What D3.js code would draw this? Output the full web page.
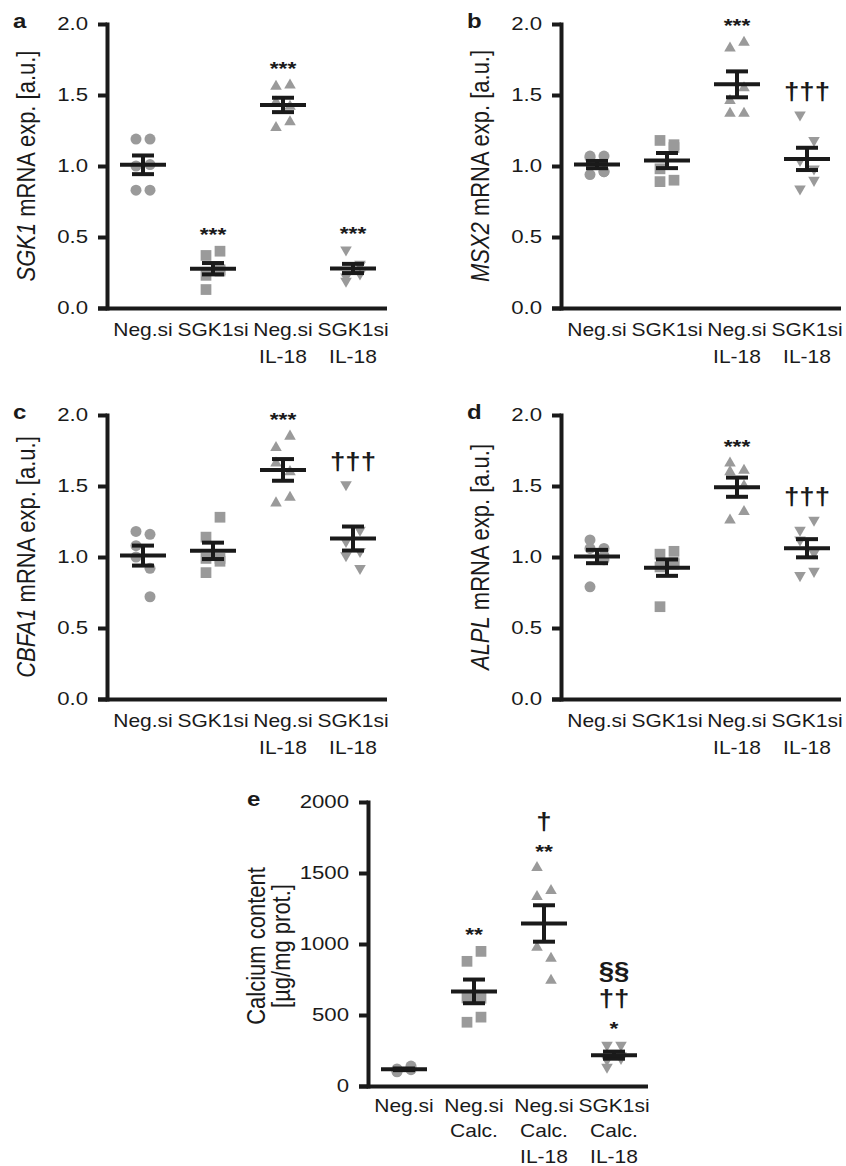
<!DOCTYPE html>
<html>
<head>
<meta charset="utf-8">
<script src="https://cdn.jsdelivr.net/npm/d3@7"></script>
<style>
  body { margin: 0; background: #fff; }
  text { font-family: "Liberation Sans", Arial, sans-serif; }
</style>
</head>
<body>
<svg id="fig" width="846" height="1166"></svg>
<script>
// categories / ticks
var exprCats = [["Neg.si"], ["SGK1si"], ["Neg.si", "IL-18"], ["SGK1si", "IL-18"]];
var calcCats = [["Neg.si"], ["Neg.si", "Calc."], ["Neg.si", "Calc.", "IL-18"], ["SGK1si", "Calc.", "IL-18"]];
var exprTicks = [0, 0.5, 1.0, 1.5, 2.0];
var calcTicks = [0, 500, 1000, 1500, 2000];

// single values per group
var sgk1Values = [
  [1.19, 1.19, 1.00, 1.01, 0.83, 0.83],
  [0.37, 0.40, 0.23, 0.27, 0.13, 0.26],
  [1.56, 1.57, 1.45, 1.42, 1.27, 1.31],
  [0.41, 0.30, 0.22, 0.31, 0.19, 0.24]
];
var msx2Values = [
  [1.07, 1.07, 1.06, 0.96, 0.94, 0.96],
  [1.18, 1.15, 0.98, 1.13, 0.89, 0.90],
  [1.83, 1.87, 1.46, 1.55, 1.37, 1.37],
  [1.36, 1.18, 1.04, 0.98, 0.84, 0.90]
];
var cbfa1Values = [
  [1.18, 1.16, 1.08, 0.92, 1.00, 0.72],
  [1.14, 1.28, 0.99, 0.99, 0.89, 0.97],
  [1.77, 1.85, 1.66, 1.60, 1.38, 1.42],
  [1.51, 1.19, 1.11, 1.04, 1.01, 0.92]
];
var alplValues = [
  [1.06, 1.06, 1.12, 1.01, 0.79, 0.98],
  [1.02, 1.04, 0.93, 0.96, 0.65, 0.95],
  [1.66, 1.61, 1.60, 1.50, 1.26, 1.32],
  [1.19, 1.26, 1.12, 1.03, 0.87, 0.90]
];
var calcValues = [
  [120, 140, 105, 125, 100, 115],
  [878, 948, 620, 618, 449, 485],
  [1334, 1376, 976, 899, 1538, 744],
  [288, 288, 185, 195, 133, 215]
];

// significance marks, bottom line first
var sgk1Marks = [[], ["***"], ["***"], ["***"]];
var msx2Marks = [[], [], ["***"], ["\u2020\u2020\u2020"]];
var cbfa1Marks = [[], [], ["***"], ["\u2020\u2020\u2020"]];
var alplMarks = [[], [], ["***"], ["\u2020\u2020\u2020"]];
var calcMarks = [[], ["**"], ["**", "\u2020"], ["*", "\u2020\u2020", "\u00a7\u00a7"]];

var ink = "#1a1a1a",
    dot = "#9a9a9a",
    sx = 1.2;   // the original figure is stretched horizontally

var shapes = [
  {type: d3.symbolCircle, size: 95, rot: 0},
  {type: d3.symbolSquare, size: 115, rot: 0},
  {type: d3.symbolTriangle, size: 58, rot: 0},
  {type: d3.symbolTriangle, size: 58, rot: 180}
];

var panels = [
  {letter: "a", gene: "SGK1", values: sgk1Values, marks: sgk1Marks, cats: exprCats, ticks: exprTicks, fmt: ".1f", ax: 107, y0: 308, y1: 24, ldx: -94, cy: 28, cdy: 26.8},
  {letter: "b", gene: "MSX2", values: msx2Values, marks: msx2Marks, cats: exprCats, ticks: exprTicks, fmt: ".1f", ax: 561, y0: 308, y1: 24, ldx: -94, cy: 28, cdy: 26.8},
  {letter: "c", gene: "CBFA1", values: cbfa1Values, marks: cbfa1Marks, cats: exprCats, ticks: exprTicks, fmt: ".1f", ax: 107, y0: 699, y1: 415, ldx: -94, cy: 28, cdy: 26.8},
  {letter: "d", gene: "ALPL", values: alplValues, marks: alplMarks, cats: exprCats, ticks: exprTicks, fmt: ".1f", ax: 561, y0: 699, y1: 415, ldx: -94, cy: 28, cdy: 26.8},
  {letter: "e", label: ["Calcium content", "[\u00b5g/mg prot.]"], values: calcValues, marks: calcMarks, cats: calcCats, ticks: calcTicks, fmt: "d", ax: 368, y0: 1086, y1: 802, ldx: -121, cy: 26, cdy: 25.3}
];

var svg = d3.select("#fig");

function drawPanel(p) {
  var g = svg.append("g");

  var y = d3.scaleLinear()
      .domain([0, d3.max(p.ticks)])
      .range([p.y0, p.y1]);

  var x = d3.scalePoint()
      .domain(d3.range(p.cats.length))
      .range([p.ax + 36, p.ax + 36 + 70 * (p.cats.length - 1)]);

  // y axis
  var yAxis = g.append("g")
      .attr("transform", "translate(" + p.ax + ",0)")
      .call(d3.axisLeft(y)
        .tickValues(p.ticks)
        .tickFormat(d3.format(p.fmt))
        .tickSizeInner(9)
        .tickSizeOuter(0)
        .tickPadding(10));

  yAxis.attr("font-family", null).attr("font-size", null);
  yAxis.select(".domain").attr("stroke", ink).attr("stroke-width", 4).attr("stroke-linecap", "square");
  yAxis.selectAll(".tick line").attr("stroke", ink).attr("stroke-width", 4);
  yAxis.selectAll(".tick text")
      .attr("x", -19 / sx)
      .attr("transform", "scale(" + sx + ",1)")
      .attr("fill", ink)
      .style("font-size", "18.5px");

  // x axis line
  g.append("line")
      .attr("x1", p.ax - 9)
      .attr("x2", p.ax + 280)
      .attr("y1", y(0) + 0.5)
      .attr("y2", y(0) + 0.5)
      .attr("stroke", ink)
      .attr("stroke-width", 4);

  // category labels
  g.selectAll(".cat")
    .data(p.cats)
    .join("g")
      .attr("class", "cat")
      .attr("transform", function(d, i) { return "translate(" + x(i) + "," + p.y0 + ") scale(" + sx + ",1)"; })
    .selectAll("text")
    .data(function(d) { return d; })
    .join("text")
      .attr("y", function(d, j) { return p.cy + j * p.cdy; })
      .attr("text-anchor", "middle")
      .attr("fill", ink)
      .style("font-size", "17.5px")
      .text(function(d) { return d; });

  // y label
  var cy = (p.y0 + p.y1) / 2;
  if (p.gene) {
    var t = g.append("g")
        .attr("transform", "translate(" + (p.ax - 72) + "," + cy + ") scale(" + sx + ",1) rotate(-90)")
      .append("text")
        .attr("text-anchor", "middle")
        .attr("fill", ink)
        .style("font-size", "22px");
    t.append("tspan").style("font-style", "italic").text(p.gene);
    t.append("tspan").text(" mRNA exp. [a.u.]");
  } else {
    p.label.forEach(function(line, k) {
      g.append("g")
          .attr("transform", "translate(" + (p.ax - 103 + k * 25) + "," + (cy + 2) + ") scale(" + sx + ",1) rotate(-90)")
        .append("text")
          .attr("text-anchor", "middle")
          .attr("fill", ink)
          .style("font-size", "22px")
          .text(line);
    });
  }

  // panel letter
  g.append("g")
      .attr("transform", "translate(" + (p.ax + p.ldx) + "," + (p.y1 + 4) + ") scale(" + sx + ",1)")
    .append("text")
      .attr("fill", ink)
      .style("font-size", "20px")
      .style("font-weight", "bold")
      .text(p.letter);

  // groups
  p.values.forEach(function(vals, i) {
    var sh = shapes[i];
    var sym = d3.symbol().type(sh.type).size(sh.size);
    var cx = x(i);

    g.append("g").selectAll("path")
      .data(vals)
      .join("path")
        .attr("d", sym)
        .attr("fill", dot)
        .attr("transform", function(v, j) {
          return "translate(" + (cx + (j % 2 === 0 ? -7 : 7)) + "," + y(v) + ") rotate(" + sh.rot + ")";
        });

    var m = d3.mean(vals),
        sem = d3.deviation(vals) / Math.sqrt(vals.length);

    var eb = g.append("g").attr("stroke", ink).attr("stroke-width", 4);
    eb.append("line").attr("x1", cx).attr("x2", cx).attr("y1", y(m + sem)).attr("y2", y(m - sem));
    eb.append("line").attr("x1", cx - 11).attr("x2", cx + 11).attr("y1", y(m + sem)).attr("y2", y(m + sem));
    eb.append("line").attr("x1", cx - 11).attr("x2", cx + 11).attr("y1", y(m - sem)).attr("y2", y(m - sem));
    eb.append("line").attr("x1", cx - 23).attr("x2", cx + 23).attr("y1", y(m)).attr("y2", y(m));

    // significance marks
    var base = y(d3.max(vals));
    p.marks[i].forEach(function(mk, k) {
      var star = mk.indexOf("*") >= 0;
      var by = base - (star ? 10 : 15) - k * 28;
      if (k > 0) by = base - 10 - k * 28;
      g.append("g")
          .attr("transform", "translate(" + cx + "," + by + ") scale(" + sx + ",1)")
        .append("text")
          .attr("text-anchor", "middle")
          .attr("fill", ink)
          .style("font-size", star ? "19px" : "23px")
          .style("font-weight", "bold")
          .text(mk);
    });
  });
}

panels.forEach(drawPanel);
</script>
</body>
</html>
